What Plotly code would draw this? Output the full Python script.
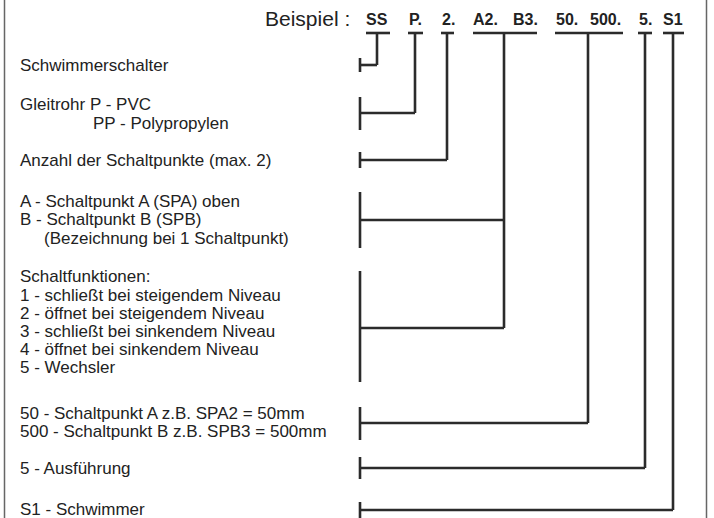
import plotly.graph_objects as go

# ---- content ----
header_label = "Beispiel :"
codes = ["SS", "P.", "2.", "A2.", "B3.", "50.", "500.", "5.", "S1"]
code_x = [377, 415, 448, 485, 525, 567, 605, 645, 673]

desc_lines = [
    "Schwimmerschalter",
    "Gleitrohr P - PVC",
    "PP - Polypropylen",
    "Anzahl der Schaltpunkte (max. 2)",
    "A - Schaltpunkt A (SPA) oben",
    "B - Schaltpunkt B (SPB)",
    "(Bezeichnung bei 1 Schaltpunkt)",
    "Schaltfunktionen:",
    "1 - schließt bei steigendem Niveau",
    "2 - öffnet bei steigendem Niveau",
    "3 - schließt bei sinkendem Niveau",
    "4 - öffnet bei sinkendem Niveau",
    "5 - Wechsler",
    "50 - Schaltpunkt A z.B. SPA2 = 50mm",
    "500 - Schaltpunkt B z.B. SPB3 = 500mm",
    "5 - Ausführung",
    "S1 - Schwimmer",
]
desc_x = [18, 18, 91, 18, 18, 18, 42, 18, 18, 18, 18, 18, 18, 18, 18, 18, 18]
desc_y = [65, 104, 123, 160, 201, 219, 238, 276, 295, 313, 331, 349, 367, 413, 431, 468, 509]

# code groups: (underline left, underline right, stem x)
group_ul = [(366, 390), (408, 423), (441, 454), (473, 537), (555, 623), (638, 652), (663, 684)]
group_stem = [377, 415, 447, 504, 588, 645, 673]
# bracket ticks at left: (tick top, tick bottom, elbow y, group index)
brackets = [
    (58, 72, 65, 0),
    (97, 130, 113, 1),
    (152, 168, 160, 2),
    (192, 248, 220, 3),
    (271, 382, 328, 3),
    (407, 440, 423, 4),
    (457, 479, 468, 5),
    (502, 520, 510, 6),
]
tick_x = 360
underline_y = 33

# ---- build line segments ----
xs, ys = [], []
def seg(x0, y0, x1, y1):
    xs.extend([x0, x1, None])
    ys.extend([y0, y1, None])

for (l, r) in group_ul:
    seg(l, underline_y, r, underline_y)

for gi, sx in enumerate(group_stem):
    elbows = [b[2] for b in brackets if b[3] == gi]
    seg(sx, underline_y, sx, max(elbows))

for (t, b, ey, gi) in brackets:
    seg(tick_x, t, tick_x, b)
    seg(tick_x, ey, group_stem[gi], ey)

fig = go.Figure()
fig.add_trace(go.Scatter(x=xs, y=ys, mode="lines",
                         line=dict(color="#2b2b2b", width=2.6),
                         hoverinfo="skip", showlegend=False, cliponaxis=False))
fig.add_trace(go.Scatter(x=[4.5, 4.5, None, 706.5, 706.5], y=[0, 518, None, 0, 518],
                         mode="lines", line=dict(color="#666666", width=1.5),
                         hoverinfo="skip", showlegend=False, cliponaxis=False))

annotations = []
annotations.append(dict(x=352, y=18, text=header_label, xanchor="right", yanchor="middle",
                        showarrow=False, font=dict(family="Liberation Sans, Arial", size=21, color="#222")))
for c, cx in zip(codes, code_x):
    annotations.append(dict(x=cx, y=19, text="<b>%s</b>" % c, xanchor="center", yanchor="middle",
                            showarrow=False, font=dict(family="Liberation Sans, Arial", size=16, color="#222")))
for t, tx, ty in zip(desc_lines, desc_x, desc_y):
    annotations.append(dict(x=tx, y=ty, text=t, xanchor="left", yanchor="middle",
                            showarrow=False, font=dict(family="Liberation Sans, Arial", size=17, color="#222")))

fig.update_layout(
    width=714, height=518,
    margin=dict(l=0, r=0, t=0, b=0),
    paper_bgcolor="white", plot_bgcolor="white",
    xaxis=dict(range=[0, 714], visible=False, fixedrange=True),
    yaxis=dict(range=[518, 0], visible=False, fixedrange=True),
    annotations=annotations,
)
fig.write_html("out.html",
               config={"displayModeBar": False, "staticPlot": True},
               post_script="document.body.style.margin='0';document.body.style.overflow='hidden';")
